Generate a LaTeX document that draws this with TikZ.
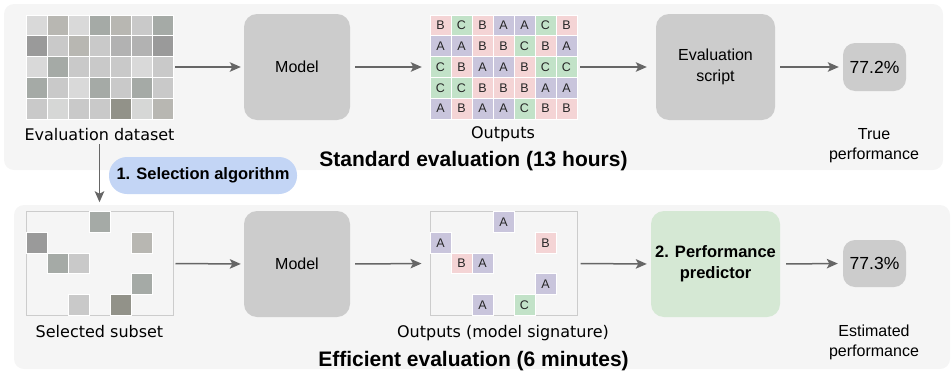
\documentclass[tikz,border=0pt]{standalone}
\usepackage{fontspec}
\setmainfont{Liberation Sans}
\newfontfamily\dvfont{DejaVu Sans}
\usetikzlibrary{arrows.meta}

\definecolor{panelbg}{HTML}{F5F5F5}
\definecolor{boxgray}{HTML}{CCCCCC}
\definecolor{arrowgray}{HTML}{666666}
\definecolor{selblue}{HTML}{C3D5F5}
\definecolor{predgreen}{HTML}{D5E8D4}
\definecolor{oA}{HTML}{C9C5DC}
\definecolor{oB}{HTML}{F4D4D5}
\definecolor{oC}{HTML}{C2E2C8}
% grey shades of the data items
\definecolor{g1}{HTML}{D9D9D9}
\definecolor{g2}{HTML}{C9C9C9}
\definecolor{g3}{HTML}{B8B7B2}
\definecolor{g4}{HTML}{A5AAA6}
\definecolor{g5}{HTML}{9A9A9A}
\definecolor{g6}{HTML}{929289}
\definecolor{g7}{HTML}{D6D7D6}
\definecolor{g8}{HTML}{B2B2B2}

\begin{document}
\begin{tikzpicture}[x=1pt,y=-1pt,
  panel/.style={fill=panelbg, rounded corners=10pt},
  procbox/.style={fill=boxgray, rounded corners=13pt, inner sep=0pt, align=center,
    font=\fontsize{16}{21}\selectfont},
  cell/.style={minimum width=21pt, minimum height=20.8pt, inner sep=0pt, draw=white,
    line width=1pt, text=black!85, font=\fontsize{12.5}{13}\selectfont},
  framebox/.style={draw=boxgray, line width=1pt, minimum width=147pt,
    minimum height=103.5pt, inner sep=0pt},
  lbltext/.style={inner sep=0pt, font=\dvfont\fontsize{16}{19}\selectfont},
  sidetext/.style={inner sep=0pt, align=center, font=\fontsize{16}{20}\selectfont},
  titletext/.style={inner sep=0pt, font=\bfseries\fontsize{21}{25}\selectfont},
  arr/.style={draw=arrowgray, line width=1.5pt,
    -{Stealth[length=11pt,width=9.5pt,inset=2.5pt]}}]
\useasboundingbox (0,0) rectangle (951,370);

% background panels
\path[panel] (4,4) rectangle (943,170);
\path[panel] (14,205) rectangle (950,369);

% ---------- standard evaluation ----------
\node[inner sep=0pt, minimum width=147pt, minimum height=104pt] (dsgrid) at (99.5,67) {};
\foreach \r/\lst in {0/{g1,g3,g1,g4,g3,g2,g4},
                     1/{g5,g2,g3,g2,g8,g8,g5},
                     2/{g1,g4,g2,g2,g2,g1,g2},
                     3/{g4,g2,g1,g4,g2,g4,g2},
                     4/{g2,g7,g2,g2,g6,g7,g3}}
  \foreach \g [count=\c from 0] in \lst
    \node[cell, fill=\g] (ds-\r-\c) at ({36.5+21*\c},{25.4+20.8*\r}) {};
\node[lbltext, anchor=base] (dslabel) at (99.5,140) {Evaluation dataset};

\node[procbox, minimum width=106pt, minimum height=106pt] (model1) at (297,67) {Model};

\node[inner sep=0pt, minimum width=147pt, minimum height=104pt] (outgrid) at (503.5,67) {};
\foreach \r/\lst in {0/{B,C,B,A,A,C,B},
                     1/{A,A,B,B,C,B,A},
                     2/{C,B,A,A,B,C,C},
                     3/{C,C,B,B,B,A,A},
                     4/{A,B,A,A,C,B,B}}
  \foreach \L [count=\c from 0] in \lst
    \node[cell, fill=o\L] (out-\r-\c) at ({440.5+21*\c},{25.4+20.8*\r}) {\L};
\node[lbltext, anchor=base] (outlabel) at (503,138) {Outputs};

\node[procbox, minimum width=119pt, minimum height=106pt] (evalscript) at (715.5,67) {Evaluation\\script};
\node[procbox, rounded corners=12pt, minimum width=63pt, minimum height=48pt,
  font=\fontsize{17.5}{20}\selectfont] (truescore) at (874.5,67) {77.2\%};
\node[sidetext, anchor=north] (truelabel) at (874,127.8) {True\\performance};

\node[titletext, anchor=base] (stdtitle) at (473.5,166) {Standard evaluation (13 hours)};

\draw[arr, shorten <=2pt, shorten >=3pt] (dsgrid.east) -- (model1.west);
\draw[arr, shorten <=5pt, shorten >=8pt] (model1.east) -- (outgrid.west);
\draw[arr, shorten <=3pt, shorten >=9pt] (outgrid.east) -- (evalscript.west);
\draw[arr, shorten <=5pt, shorten >=4pt] (evalscript.east) -- (truescore.west);

% ---------- subset selection ----------
\node[fill=selblue, rounded corners=18pt, minimum width=188pt, minimum height=37pt,
  inner sep=0pt, font=\bfseries\fontsize{16.5}{20}\selectfont] (select) at (203,175.5)
  {1. Selection algorithm};

% ---------- efficient evaluation ----------
\node[framebox] (subset) at (99.5,263.5) {};
\foreach \c/\r/\g in {3/0/g4, 0/1/g5, 5/1/g3, 1/2/g4, 2/2/g2, 5/3/g4, 2/4/g2, 4/4/g6}
  \node[cell, fill=\g] (ss-\r-\c) at ({36.5+21*\c},{222.3+20.6*\r}) {};
\node[lbltext, anchor=base] (sslabel) at (99.5,337.5) {Selected subset};

\draw[arr, shorten <=4pt, shorten >=9pt] (dslabel.south) -- (dslabel.south |- subset.north);

\node[procbox, minimum width=106pt, minimum height=106pt] (model2) at (297,264) {Model};

\node[framebox] (sig) at (503.5,263.5) {};
\foreach \c/\r/\L in {3/0/A, 0/1/A, 5/1/B, 1/2/B, 2/2/A, 5/3/A, 2/4/A, 4/4/C}
  \node[cell, fill=o\L] (sig-\r-\c) at ({440.5+21*\c},{222.3+20.6*\r}) {\L};
\node[lbltext, anchor=base] (siglabel) at (503,337.5) {Outputs (model signature)};

\node[procbox, fill=predgreen, minimum width=129pt, minimum height=106pt,
  font=\bfseries\fontsize{16.5}{21}\selectfont] (pred) at (715.5,264)
  {2. Performance\\predictor};
\node[procbox, rounded corners=12pt, minimum width=63pt, minimum height=47pt,
  font=\fontsize{17.5}{20}\selectfont] (estscore) at (874.5,263.5) {77.3\%};
\node[sidetext, anchor=north] (estlabel) at (874,325) {Estimated\\performance};

\node[titletext, anchor=base] (efftitle) at (473.5,366) {Efficient evaluation (6 minutes)};

\draw[arr, shorten <=2pt, shorten >=3pt] (subset.east) -- (model2.west);
\draw[arr, shorten <=5pt, shorten >=8pt] (model2.east) -- (sig.west);
\draw[arr, shorten <=3pt, shorten >=4pt] (sig.east) -- (pred.west);
\draw[arr, shorten <=6pt, shorten >=5pt] (pred.east) -- (estscore.west);
\end{tikzpicture}
\end{document}
